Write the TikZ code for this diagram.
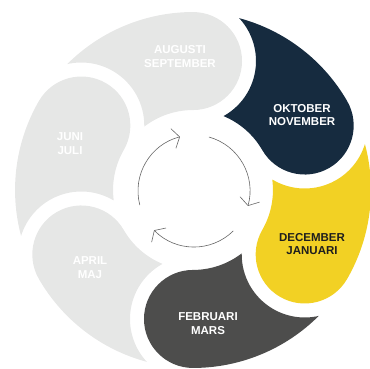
\documentclass[tikz,border=0pt]{standalone}
\usepackage{fontspec}
\setmainfont{Liberation Sans}
\usetikzlibrary{arrows.meta}
\definecolor{lgray}{HTML}{E6E7E6}
\definecolor{navy}{HTML}{162B3F}
\definecolor{ylw}{HTML}{F2D124}
\definecolor{dgray}{HTML}{4D4D4C}
\definecolor{txtdark}{HTML}{1E1E1E}
\definecolor{arrowgray}{HTML}{666666}
\begin{document}
\begin{tikzpicture}[x=1pt,y=1pt,
  lbl/.style={font=\fontsize{11.5}{13.5}\selectfont\bfseries, align=center, text=white, inner sep=0pt},
  cyc/.style={draw=arrowgray, line width=0.6pt, -{Straight Barb[angle=115:12pt]}}]
\useasboundingbox (0,0) rectangle (369,369);
\begin{scope}[shift={(193,179)}]
\foreach \p/\c in {90/lgray,30/navy,-30/ylw,-90/dgray,-150/lgray,150/lgray}{
  \fill[\c] ({\p+37.52}:80)
    arc[start angle={\p-90.95}, end angle={\p+12.89}, radius=63]
    arc[start angle={\p+44.96}, end angle={\p}, radius=178]
    arc[start angle={\p}, end angle={\p-180}, radius=49]
    arc[start angle={\p}, end angle={\p+37.52}, radius=80] -- cycle;
}
\end{scope}
\node[lbl] (aug) at (180,312.5) {AUGUSTI\\SEPTEMBER};
\node[lbl] (okt) at (302,254) {OKTOBER\\NOVEMBER};
\node[lbl, text=txtdark] (dec) at (312,125) {DECEMBER\\JANUARI};
\node[lbl] (feb) at (208,45.5) {FEBRUARI\\MARS};
\node[lbl] (apr) at (90,101.5) {APRIL\\MAJ};
\node[lbl] (jun) at (70,225.5) {JUNI\\JULI};
\begin{scope}[shift={(194,178)}]
\coordinate (a1) at (194.5:56);
\coordinate (a2) at (74.5:56);
\coordinate (a3) at (-45.5:56);
\draw[cyc] (a1) arc[start angle=194.5, end angle=104.5, radius=56];
\draw[cyc] (a2) arc[start angle=74.5, end angle=-15.5, radius=56];
\draw[cyc] (a3) arc[start angle=-45.5, end angle=-135.5, radius=56];
\end{scope}
\end{tikzpicture}
\end{document}
